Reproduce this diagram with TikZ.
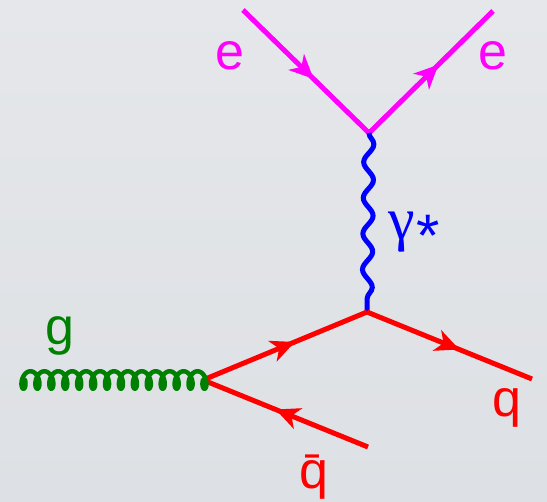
\documentclass[tikz,border=0pt]{standalone}
\usepackage{fontspec}
\setmainfont{Liberation Sans}
\newfontfamily\gamfont{Liberation Serif}
\usetikzlibrary{arrows.meta,decorations.pathmorphing,decorations.markings}

\definecolor{bgtop}{RGB}{229,231,234}
\definecolor{bgbot}{RGB}{221,224,228}
\definecolor{emag}{RGB}{255,0,255}
\definecolor{phblue}{RGB}{0,0,255}
\definecolor{qred}{RGB}{255,0,0}
\definecolor{ggreen}{RGB}{0,128,0}

\begin{document}
\begin{tikzpicture}[
  x=1pt,
  y=-1pt,
  font=\fontsize{52}{60}\selectfont,
  lbl/.style={inner sep=0pt, anchor=base},
  fermion/.style={line width=5pt, postaction={decorate},
    decoration={markings, mark=at position 0.56 with
      {\arrow{Stealth[length=24pt,width=22pt,inset=7pt]}}}},
  photon/.style={phblue, line width=5pt, decorate,
    decoration={snake, segment length=35.8pt, amplitude=5pt}},
  gluon/.style={ggreen, line width=4.5pt, line cap=round}
]

% Background
\useasboundingbox (0,0) rectangle (547,502);
\shade[top color=bgtop, bottom color=bgbot] (0,0) rectangle (547,502);

% Vertices and free ends
\coordinate (ein) at (243,10);
\coordinate (eout) at (493,11);
\coordinate (vee) at (369,133);
\coordinate (vqq) at (367,312);
\coordinate (vg) at (203,380);
\coordinate (qend) at (532,379);
\coordinate (qbarend) at (368,447);
\coordinate (gend) at (25,380);

% Lines
\draw[fermion, emag] (ein) -- (vee);
\draw[fermion, emag] (vee) -- (eout);
\draw[photon] (vee) -- (vqq);
\draw[fermion, qred] (vg) -- (vqq);
\draw[fermion, qred] (vqq) -- (qend);
\draw[fermion, qred] (qbarend) -- (vg);
% gluon: 13 loops from gend to vg
\draw[gluon, shift={(gend)}] plot[domain=-pi/2:26.5*pi, samples=900, smooth]
  ({2.216*\x - 5*sin(\x r) - 1.519}, {8.7*cos(\x r)});

% Labels
\node[lbl, emag] (le1) at (230,70) {e};
\node[lbl, emag] (le2) at (493,70) {e};
\node[lbl, phblue, anchor=base west] (lgam) at (388,240)
  {{\gamfont\fontsize{60}{60}\selectfont γ}\kern2pt\raisebox{-17pt}{\fontsize{60}{60}\selectfont *}};
\node[lbl, ggreen] (lg) at (60,345) {g};
\node[lbl, qred] (lq) at (507,417) {q};
\node[lbl, qred] (lqbar) at (314,489) {\=q};

\end{tikzpicture}
\end{document}
